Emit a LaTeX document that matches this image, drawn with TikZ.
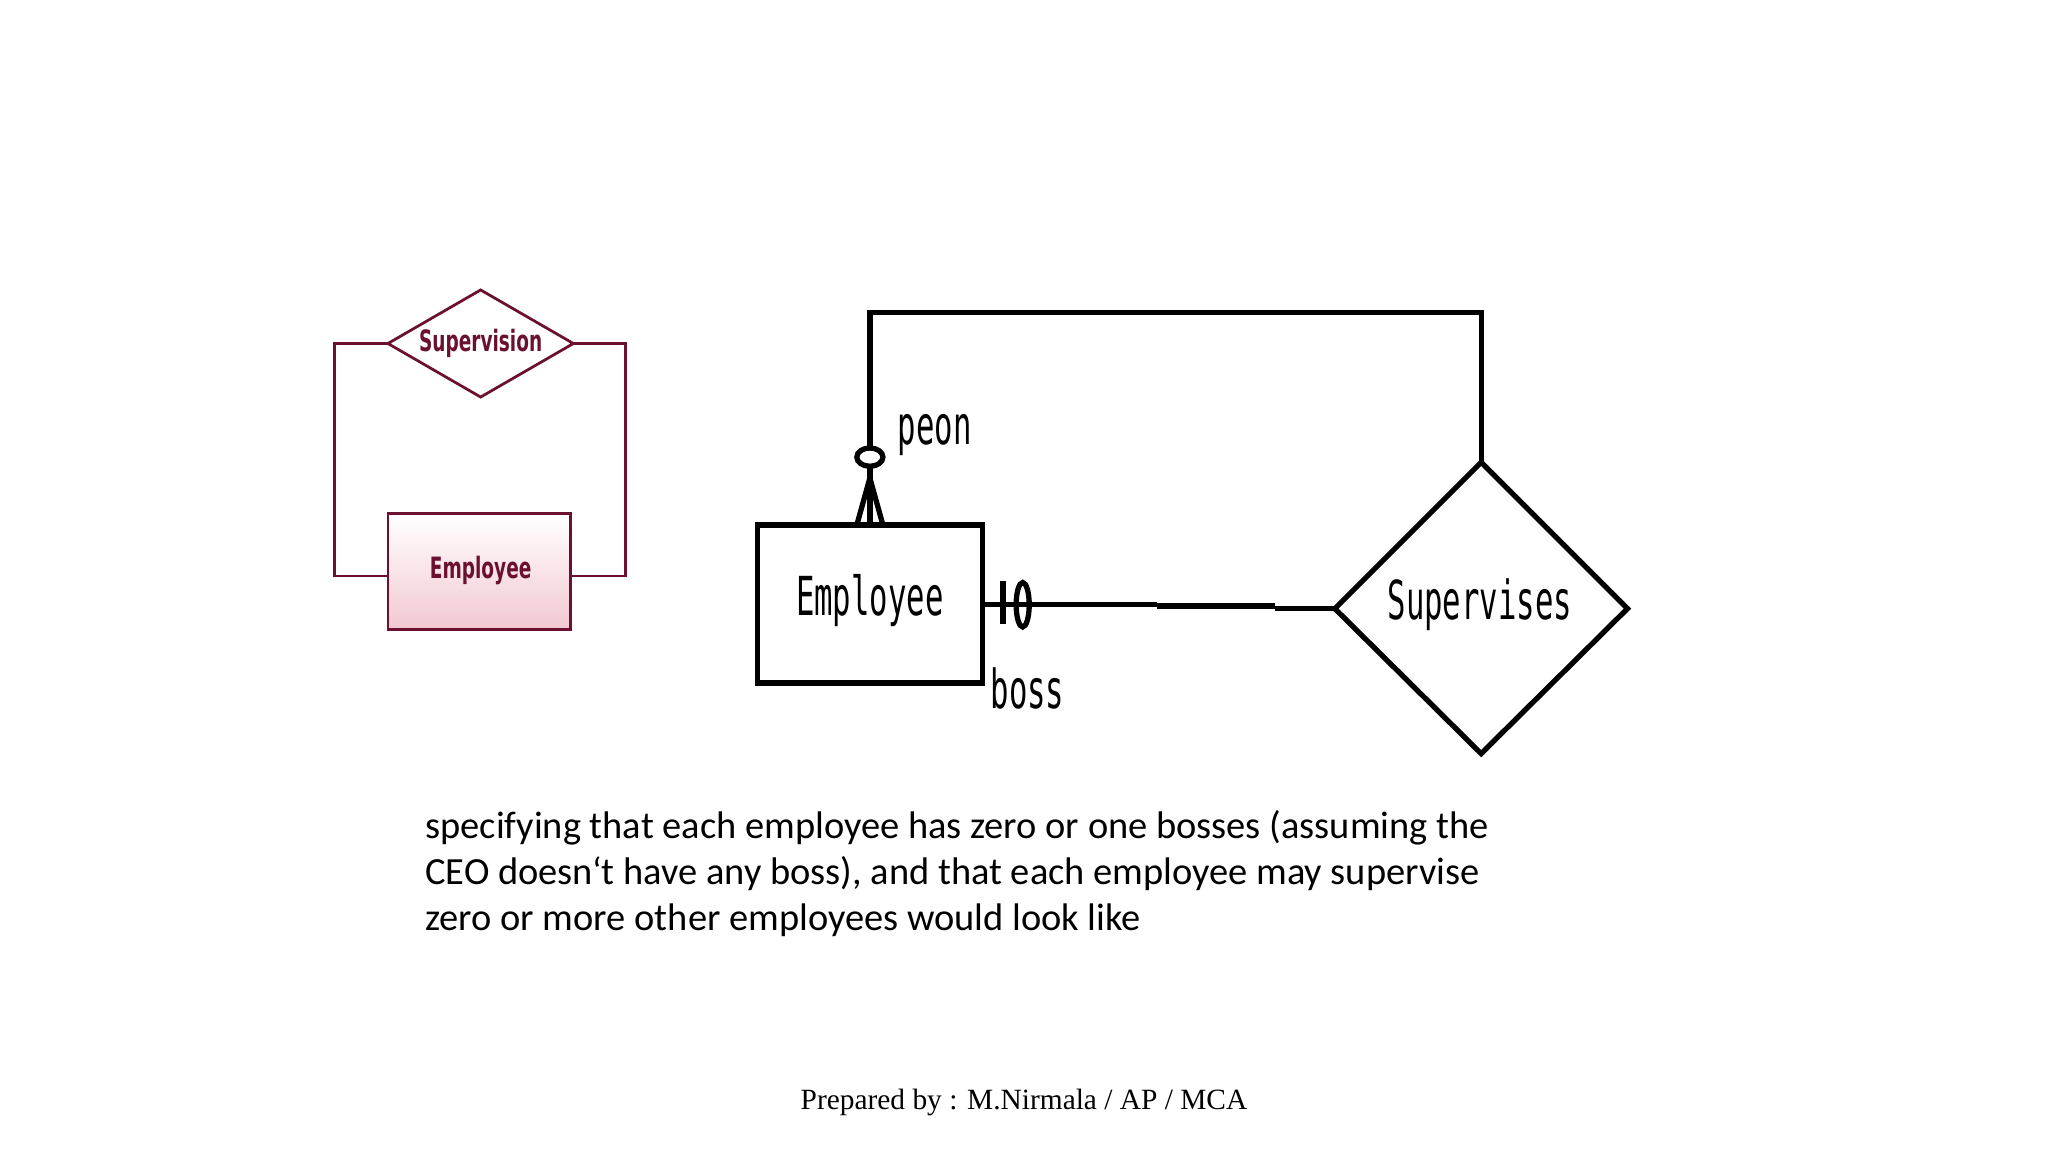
\documentclass[tikz,border=0pt]{standalone}
\usepackage{fontspec}
\setmainfont{Carlito}
\newfontfamily\monof{DejaVu Sans Mono}
\newfontfamily\condf{DejaVu Sans Condensed}
\newfontfamily\serf{Liberation Serif}
\definecolor{maroon}{HTML}{6B1030}
\definecolor{pinkb}{HTML}{F2C8D2}
\begin{document}
\begin{tikzpicture}[x=0.01cm,y=-0.01cm,
  thick/.style={line width=1.15pt},
  thin/.style={draw=maroon,line width=0.6pt},
  small/.style={font=\condf\bfseries\fontsize{6.4}{7}\selectfont,text=maroon,xscale=0.7},
  monolab/.style={font=\monof\fontsize{11.7}{13}\selectfont,xscale=0.57,inner sep=0pt}]
\useasboundingbox (0,0) rectangle (1568,882);
% left small diagram
\coordinate (sl) at (297,263); \coordinate (sr) at (439,263);
\draw[thin] (368,222) -- (439,263) -- (368,304) -- (297,263) -- cycle;
\node[small] (svt) at (368,263) {Supervision};
\shade[top color=white,bottom color=pinkb] (297,393) rectangle (437,482);
\draw[thin] (297,393) rectangle (437,482);
\node[small] (emp1) at (368,437) {Employee};
\coordinate (el) at (297,441); \coordinate (er) at (437,441);
\draw[thin] (sl) -- (256,263) -- (256,441) -- (el);
\draw[thin] (sr) -- (479,263) -- (479,441) -- (er);
% right diagram
\draw[thick] (580,402) rectangle (752,523);
\node[monolab] (emp) at (666,460) {Employee};
\coordinate (dt) at (1134,354); \coordinate (dl) at (1022,466);
\draw[thick] (dt) -- (1246,466) -- (1134,577) -- (dl) -- cycle;
\node[monolab] (sup) at (1133,463) {Supervises};
\draw[thick] (dt) -- (1134,239) -- (666,239) -- (666,342);
\draw[thick] (666,350) ellipse (10 and 7);
\draw[thick] (666,358) -- (666,402);
\draw[thick] (666,366) -- (656,402);
\draw[thick] (666,366) -- (676,402);
\draw[thick] (752,463) -- (886,463);
\draw[thick] (886,464) -- (976,464);
\draw[thick] (976,466) -- (dl);
\draw[thick] (768,445) -- (768,478);
\draw[thick] (783,463) ellipse (5 and 17);
\node[monolab,anchor=west] (peon) at (687,333) {peon};
\node[monolab,anchor=west] (boss) at (758,527) {boss};
% text
\node[anchor=north west,align=left,inner sep=0pt,font=\fontsize{8.37}{10}\selectfont] (txt) at (325,620)
{specifying that each employee has zero or one bosses (assuming the\\
CEO doesn‘t have any boss), and that each employee may supervise\\
zero or more other employees would look like};
\node[font=\serf\fontsize{6.4}{7}\selectfont] (foot) at (784,844) {Prepared by : M.Nirmala / AP / MCA};
\end{tikzpicture}
\end{document}
